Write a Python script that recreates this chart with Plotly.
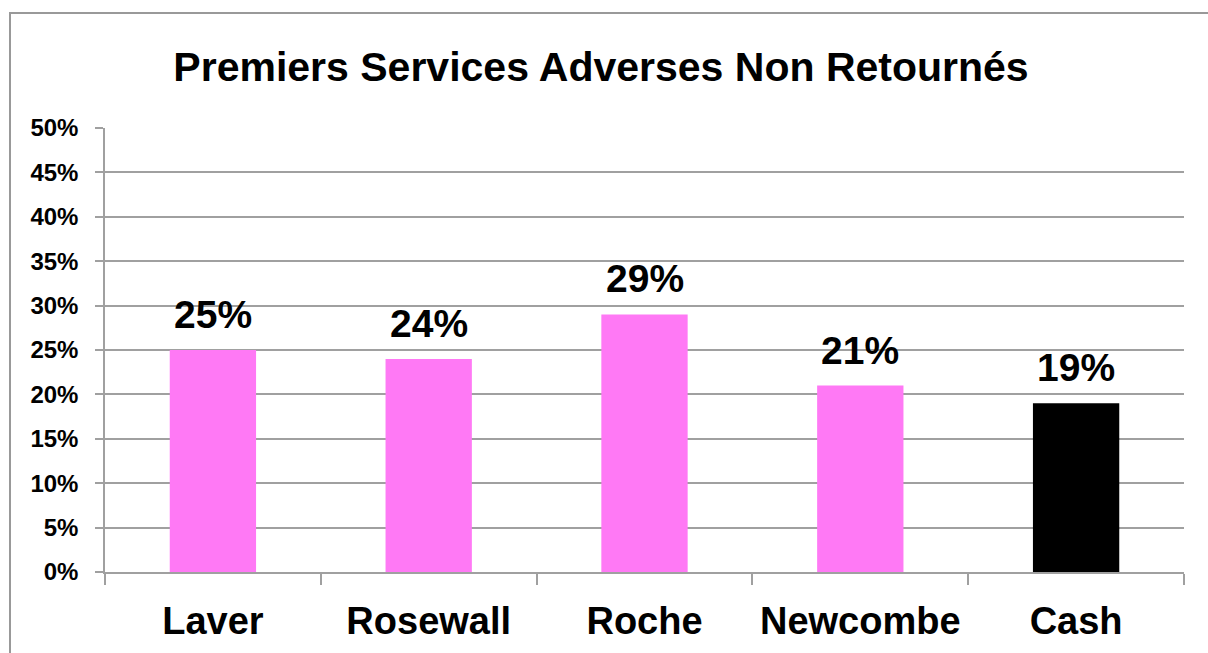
import plotly.graph_objects as go

players = ["Laver", "Rosewall", "Roche", "Newcombe", "Cash"]
values = [25, 24, 29, 21, 19]
bar_colors = ["#FF79F5", "#FF79F5", "#FF79F5", "#FF79F5", "#000000"]
labels = ["25%", "24%", "29%", "21%", "19%"]
y_ticks = [0, 5, 10, 15, 20, 25, 30, 35, 40, 45, 50]
y_tick_text = [f"{v}%" for v in y_ticks]

FONT = "Arial, Liberation Sans, sans-serif"
GRID = "#A0A0A0"

fig = go.Figure()
fig.add_trace(go.Bar(
    x=players, y=values, marker=dict(color=bar_colors, line=dict(width=0)),
    width=0.4, hoverinfo="skip",
))

for p, v, t in zip(players, values, labels):
    fig.add_annotation(x=p, y=v, text=f"<b>{t}</b>", showarrow=False,
                       yanchor="bottom", yshift=12,
                       font=dict(family=FONT, size=39, color="black"))

W, H = 1208, 653
L, R, T, B = 105, 24, 128, 81
pw, ph = W - L - R, H - T - B

def px(x):
    return (x - L) / pw

def py(y):
    return (H - B - y) / ph

fig.add_shape(type="rect", xref="paper", yref="paper",
              x0=px(10), x1=px(1220), y0=py(670), y1=py(13),
              line=dict(color="#999999", width=2), fillcolor="rgba(0,0,0,0)", layer="below")

fig.update_layout(
    width=W, height=H,
    margin=dict(l=L, r=R, t=T, b=B, autoexpand=False),
    paper_bgcolor="white", plot_bgcolor="white",
    showlegend=False,
    title=dict(text="<b>Premiers Services Adverses Non Retournés</b>",
               x=601 / W, xanchor="center", xref="container",
               y=1 - 67 / H, yanchor="middle", yref="container",
               font=dict(family=FONT, size=41, color="black")),
    font=dict(family=FONT, color="black"),
    xaxis=dict(
        showgrid=False, showline=True, linecolor=GRID, linewidth=1.5,
        ticks="outside", ticklen=11, tickcolor=GRID, tickwidth=1.5,
        tickson="boundaries", tickfont=dict(family=FONT, size=38, color="black"),
        tickprefix="<b>", ticksuffix="</b>", ticklabelstandoff=15,
        automargin=False,
    ),
    yaxis=dict(
        range=[0, 50], tickvals=y_ticks, ticktext=[f"<b>{s}</b>" for s in y_tick_text],
        showgrid=True, gridcolor=GRID, gridwidth=1.5,
        showline=True, linecolor=GRID, linewidth=1.5,
        ticks="outside", ticklen=8, tickcolor=GRID, tickwidth=1.5,
        tickfont=dict(family=FONT, size=24, color="black"),
        ticklabelstandoff=12, zeroline=False, automargin=False,
    ),
)

fig.write_html("out.html")
